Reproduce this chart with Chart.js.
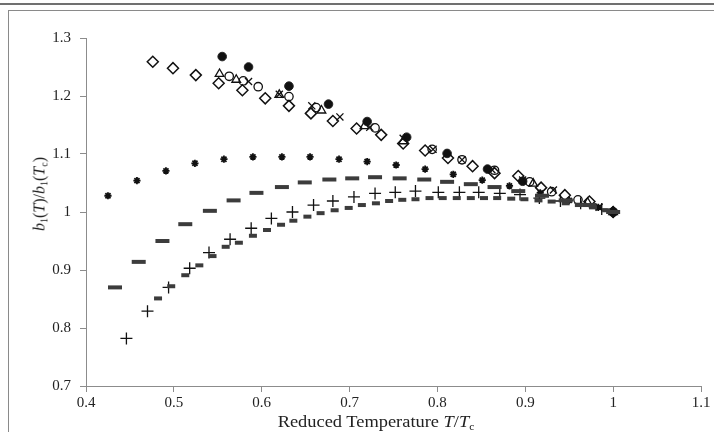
<!DOCTYPE html>
<html lang="en">
<head>
  <meta charset="UTF-8">
  <title>b1(T)/b1(Tc) vs reduced temperature</title>
  <style>
    body {
      margin: 0;
      background: #fff;
    }
    .wrap {
      position: relative;
      width: 714px;
      height: 432px;
      overflow: hidden;
      font-family: "Liberation Serif", "DejaVu Serif", serif;
      color: #222;
    }
    .line-top { position: absolute; left: 0; top: 3px; width: 714px; height: 2px; background: #707070; }
    .line-top2 { position: absolute; left: 8px; top: 10px; width: 706px; height: 1px; background: #8a8a8a; }
    .line-left { position: absolute; left: 8px; top: 10px; width: 1px; height: 422px; background: #8a8a8a; }
    .xtitle {
      position: absolute;
      left: 376px;
      top: 413px;
      transform: translateX(-50%) scaleX(1.15);
      font-size: 16px;
      white-space: nowrap;
    }
    .ytitle {
      position: absolute;
      left: 40px;
      top: 194px;
      transform: translate(-50%, -50%) rotate(-90deg);
      font-size: 16px;
      white-space: nowrap;
    }
    sub { font-size: 10px; vertical-align: -3px; }
    canvas { position: absolute; left: 0; top: 0; }
  </style>
  <script src="https://cdn.jsdelivr.net/npm/chart.js"></script>
</head>
<body>
  <div class="wrap">
    <div class="line-top"></div>
    <div class="line-top2"></div>
    <div class="line-left"></div>
    <canvas id="chart" width="714" height="432"></canvas>
    <div class="ytitle"><i>b</i><sub>1</sub>(<i>T</i>)/<i>b</i><sub>1</sub>(<i>T</i><sub>c</sub>)</div>
    <div class="xtitle">Reduced Temperature <i>T</i>/<i>T</i><sub>c</sub></div>
  </div>

  <script>
    // values (x = T/Tc, y = b1(T)/b1(Tc))
    const diamondX = [0.476, 0.499, 0.525, 0.551, 0.578, 0.604, 0.631, 0.656, 0.681, 0.708, 0.736, 0.761, 0.786, 0.812, 0.840, 0.865, 0.892, 0.918, 0.945, 0.973, 1.0];
    const diamondY = [1.259, 1.248, 1.236, 1.222, 1.210, 1.196, 1.183, 1.170, 1.157, 1.144, 1.133, 1.118, 1.106, 1.093, 1.079, 1.067, 1.062, 1.042, 1.029, 1.018, 1.0];

    const dotX = [0.555, 0.585, 0.631, 0.676, 0.720, 0.765, 0.811, 0.857, 0.897, 1.0];
    const dotY = [1.268, 1.250, 1.217, 1.186, 1.156, 1.129, 1.101, 1.074, 1.053, 1.0];

    const circleX = [0.563, 0.579, 0.596, 0.631, 0.662, 0.729, 0.794, 0.828, 0.865, 0.905, 0.930, 0.960, 1.0];
    const circleY = [1.234, 1.226, 1.216, 1.199, 1.180, 1.145, 1.108, 1.090, 1.072, 1.052, 1.035, 1.021, 1.0];

    const triangleX = [0.552, 0.571, 0.620, 0.668, 0.717, 0.761, 0.909, 0.971, 1.0];
    const triangleY = [1.238, 1.228, 1.202, 1.175, 1.148, 1.122, 1.049, 1.016, 1.0];

    const crossX = [0.585, 0.620, 0.657, 0.689, 0.723, 0.761, 0.795, 0.828, 0.862, 0.897, 0.932, 0.984];
    const crossY = [1.225, 1.203, 1.183, 1.164, 1.146, 1.127, 1.108, 1.090, 1.073, 1.055, 1.038, 1.008];

    const starX = [0.425, 0.458, 0.491, 0.524, 0.557, 0.590, 0.623, 0.655, 0.688, 0.720, 0.753, 0.786, 0.818, 0.851, 0.882, 0.917, 0.950, 0.983];
    const starY = [1.028, 1.054, 1.071, 1.084, 1.091, 1.095, 1.095, 1.095, 1.091, 1.087, 1.081, 1.074, 1.065, 1.055, 1.045, 1.033, 1.020, 1.008];

    const wideDashX = [0.433, 0.460, 0.487, 0.513, 0.541, 0.568, 0.594, 0.623, 0.649, 0.677, 0.703, 0.729, 0.757, 0.785, 0.811, 0.838, 0.865, 0.892, 0.919, 0.946, 0.973, 1.0];
    const wideDashY = [0.870, 0.914, 0.950, 0.979, 1.002, 1.020, 1.033, 1.043, 1.051, 1.056, 1.058, 1.060, 1.058, 1.056, 1.052, 1.048, 1.043, 1.036, 1.028, 1.020, 1.012, 1.0];

    const smallDashX = [0.482, 0.497, 0.513, 0.529, 0.544, 0.559, 0.574, 0.590, 0.606, 0.622, 0.636, 0.652, 0.667, 0.683, 0.699, 0.714, 0.730, 0.745, 0.760, 0.775, 0.791, 0.806, 0.822, 0.838, 0.853, 0.868, 0.884, 0.899, 0.915, 0.930, 0.946, 0.961, 0.977, 0.992];
    const smallDashY = [0.851, 0.872, 0.891, 0.908, 0.924, 0.940, 0.947, 0.959, 0.969, 0.978, 0.985, 0.992, 0.998, 1.003, 1.007, 1.012, 1.015, 1.019, 1.021, 1.022, 1.024, 1.024, 1.024, 1.024, 1.024, 1.024, 1.023, 1.022, 1.020, 1.018, 1.015, 1.012, 1.008, 1.003];

    const plusX = [0.446, 0.470, 0.494, 0.518, 0.540, 0.564, 0.588, 0.611, 0.635, 0.659, 0.681, 0.705, 0.729, 0.752, 0.775, 0.801, 0.825, 0.847, 0.871, 0.894, 0.916, 0.940, 0.963, 0.987, 1.0];
    const plusY = [0.782, 0.829, 0.870, 0.903, 0.930, 0.953, 0.972, 0.989, 1.000, 1.012, 1.019, 1.026, 1.032, 1.034, 1.036, 1.034, 1.034, 1.034, 1.032, 1.030, 1.024, 1.019, 1.015, 1.005, 1.0];

    const xTicks = [0.4, 0.5, 0.6, 0.7, 0.8, 0.9, 1.0, 1.1];
    const yTicks = [0.7, 0.8, 0.9, 1.0, 1.1, 1.2, 1.3];

    function pts(xs, ys) {
      return xs.map((x, i) => ({ x: x, y: ys[i] }));
    }

    function series(label, xs, ys, style, radius, fill, stroke, width) {
      return {
        label: label,
        data: pts(xs, ys),
        showLine: false,
        pointStyle: style,
        pointRadius: radius,
        pointHoverRadius: radius,
        pointBackgroundColor: fill,
        pointBorderColor: stroke,
        pointBorderWidth: width
      };
    }

    const axisColor = '#8c8c8c';
    const tickFont = { family: 'Liberation Serif', size: 15 };

    new Chart(document.getElementById('chart'), {
      type: 'scatter',
      data: {
        datasets: [
          series('wide dash', wideDashX, wideDashY, 'line', 7, '#3c3c3c', '#3c3c3c', 4),
          series('small dash', smallDashX, smallDashY, 'line', 4, '#3c3c3c', '#3c3c3c', 4),
          series('plus', plusX, plusY, 'cross', 6, '#111', '#111', 1.3),
          series('star', starX, starY, 'star', 3.6, '#111', '#111', 1.8),
          series('diamond', diamondX, diamondY, 'rectRot', 5.5, 'rgba(255,255,255,0)', '#111', 1.5),
          series('circle', circleX, circleY, 'circle', 4.2, 'rgba(255,255,255,0)', '#111', 1.3),
          series('triangle', triangleX, triangleY, 'triangle', 5, 'rgba(255,255,255,0)', '#111', 1.3),
          series('cross', crossX, crossY, 'crossRot', 5, '#111', '#111', 1.3),
          series('dot', dotX, dotY, 'circle', 4.3, '#111', '#222', 1)
        ]
      },
      options: {
        responsive: false,
        animation: false,
        layout: { padding: { top: 38, right: 13, left: 0, bottom: 0 } },
        plugins: {
          legend: { display: false },
          tooltip: { enabled: false }
        },
        scales: {
          x: {
            type: 'linear',
            min: 0.4,
            max: 1.1,
            afterFit: s => { s.height = 46; },
            afterBuildTicks: s => { s.ticks = xTicks.map(v => ({ value: v })); },
            grid: { drawOnChartArea: false, color: axisColor, tickLength: 6 },
            border: { color: axisColor },
            ticks: {
              color: '#222',
              font: tickFont,
              padding: 2,
              maxRotation: 0,
              callback: v => String(Number(v.toFixed(1)))
            }
          },
          y: {
            type: 'linear',
            min: 0.7,
            max: 1.3,
            afterFit: s => { s.width = 86; },
            afterBuildTicks: s => { s.ticks = yTicks.map(v => ({ value: v })); },
            grid: { drawOnChartArea: false, color: axisColor, tickLength: 6 },
            border: { color: axisColor },
            ticks: {
              color: '#222',
              font: tickFont,
              padding: 9,
              callback: v => String(Number(v.toFixed(1)))
            }
          }
        }
      }
    });
  </script>
</body>
</html>
